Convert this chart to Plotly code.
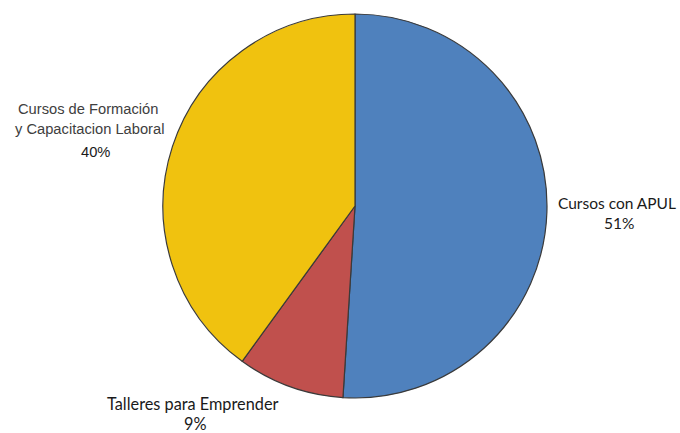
import plotly.graph_objects as go

categories = ["Cursos con APUL", "Talleres para Emprender", "Cursos de Formación y Capacitacion Laboral"]
values = [51, 9, 40]
colors = ["#4F81BD", "#C0504D", "#F0C20F"]

W, H = 680, 433
cx, cy, r = 355, 206, 192

fig = go.Figure(go.Pie(
    labels=categories,
    values=values,
    sort=False,
    direction="clockwise",
    rotation=0,
    marker=dict(colors=colors, line=dict(color="#3a3a3a", width=1.2)),
    textinfo="none",
    hoverinfo="label+percent",
    showlegend=False,
    domain=dict(x=[(cx - r) / W, (cx + r) / W], y=[(H - cy - r) / H, (H - cy + r) / H]),
))

def ann(text, x, y, font, size, color="#1a1a1a"):
    fig.add_annotation(text=text, x=x / W, y=1 - y / H, xref="paper", yref="paper",
                       showarrow=False, xanchor="center", yanchor="middle",
                       font=dict(family=font, size=size, color=color))

ann("Cursos de Formación", 88, 109, "Liberation Sans", 14.7, "#404040")
ann("y Capacitacion Laboral", 89, 129, "Liberation Sans", 14.7, "#404040")
ann("40%", 95, 152, "Liberation Sans", 14.7, "#1a1a1a")
ann("Cursos con APUL", 617, 203, "Lato", 15.5)
ann("51%", 619, 223, "Lato", 15.5)
ann("Talleres para Emprender", 192, 403, "Lato", 16.3)
ann("9%", 196, 423, "Lato", 16.3)

fig.update_layout(width=W, height=H, margin=dict(l=0, r=0, t=0, b=0),
                  paper_bgcolor="white", plot_bgcolor="white")
fig.write_html("out.html", config={"displayModeBar": False},
               post_script="document.body.style.margin='0';document.body.style.padding='0';")
